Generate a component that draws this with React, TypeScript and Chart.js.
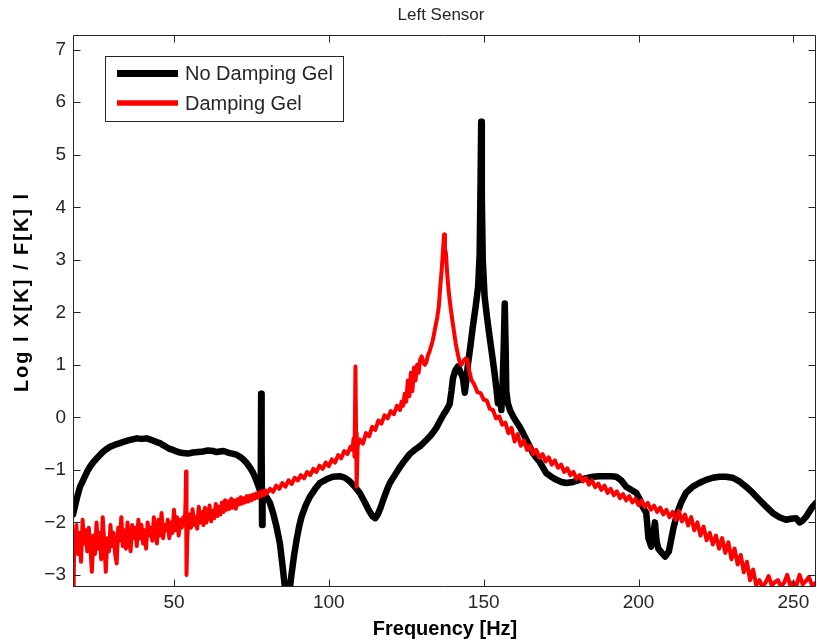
import React, { useEffect, useRef } from 'react';
import { Chart, registerables } from 'chart.js';

Chart.register(...registerables);

const chartTitle = 'Left Sensor';
const xTitle = 'Frequency [Hz]';
const yTitle = 'Log l X[K] / F[K] l';
const seriesNames = ['No Damping Gel', 'Damping Gel'];
const seriesColors = ['#000000', '#ff0000'];
const xTicks = [50, 100, 150, 200, 250];
const yTicks = [-3, -2, -1, 0, 1, 2, 3, 4, 5, 6, 7];
const xRange = [17.4, 257.3];
const yRange = [-3.23, 7.28];

// [frequency Hz, log magnitude]
const noDampingGel: number[][] = [
  [17.4, -1.85], [18.0, -1.7], [18.6, -1.55], [19.2, -1.42], [19.7, -1.32], [20.5, -1.22], [21.3, -1.12],
  [22.1, -1.02], [22.9, -0.94], [24.0, -0.85], [25.1, -0.78], [26.2, -0.71], [27.2, -0.65], [28.3, -0.6],
  [29.4, -0.56], [31.0, -0.52], [32.6, -0.49], [34.0, -0.46], [35.2, -0.44], [36.6, -0.42], [38.0, -0.4],
  [39.5, -0.41], [41.2, -0.4], [42.2, -0.42], [43.2, -0.44], [44.4, -0.47], [45.5, -0.49], [46.5, -0.53],
  [47.4, -0.56], [48.6, -0.6], [49.7, -0.62], [51.3, -0.66], [52.9, -0.68], [54.5, -0.69], [56.1, -0.67],
  [57.8, -0.66], [59.4, -0.65], [61.0, -0.63], [62.6, -0.64], [63.7, -0.66], [64.8, -0.65], [66.0, -0.64],
  [67.4, -0.67], [68.8, -0.69], [70.2, -0.71], [71.0, -0.74], [71.8, -0.77], [72.7, -0.82], [73.5, -0.87],
  [74.2, -0.93], [74.8, -0.98], [75.5, -1.05], [76.1, -1.13], [76.6, -1.2], [77.1, -1.28], [77.7, -1.38],
  [78.0, -1.4], [78.15, 0.45], [78.3, -0.6], [78.45, -2.05], [78.6, -1.5], [78.8, -1.44], [79.9, -1.52],
  [81.0, -1.63], [82.0, -1.82], [83.1, -2.08], [84.2, -2.4], [85.2, -2.9], [86.1, -3.4], [87.1, -3.4],
  [88.0, -2.97], [88.8, -2.62], [89.6, -2.33], [90.4, -2.08], [91.2, -1.89], [92.5, -1.68], [93.9, -1.51],
  [95.5, -1.37], [97.1, -1.25], [99.2, -1.18], [101.3, -1.13], [103.5, -1.12], [105.2, -1.15], [106.8, -1.22],
  [108.4, -1.32], [110.0, -1.44], [111.0, -1.55], [111.9, -1.65], [113.0, -1.78], [114.2, -1.89], [115.0, -1.92],
  [115.8, -1.85], [116.7, -1.72], [117.7, -1.55], [118.7, -1.39], [119.7, -1.25], [121.3, -1.1], [122.9, -0.95],
  [124.5, -0.82], [126.1, -0.7], [127.7, -0.62], [129.4, -0.55], [130.5, -0.49], [131.5, -0.43], [132.5, -0.37],
  [133.5, -0.3], [134.7, -0.2], [135.8, -0.08], [137.0, 0.05], [138.0, 0.14], [139.0, 0.25], [139.6, 0.5],
  [140.1, 0.75], [140.9, 0.9], [141.7, 0.97], [142.6, 0.85], [143.3, 0.75], [143.9, 0.47], [144.4, 0.7],
  [144.9, 1.0], [145.7, 1.35], [146.5, 1.73], [147.4, 2.1], [148.2, 2.49], [148.7, 3.1], [149.0, 4.5],
  [149.2, 5.63], [149.4, 4.2], [149.7, 3.0], [150.3, 2.3], [151.1, 1.9], [151.9, 1.54], [152.7, 1.2],
  [153.5, 0.85], [154.1, 0.55], [154.6, 0.27], [155.2, 0.45], [155.7, 0.14], [156.1, 0.6], [156.5, 1.4],
  [156.8, 2.17], [157.1, 1.3], [157.3, 0.5], [157.8, 0.27], [158.6, 0.12], [159.5, 0.02], [160.5, -0.08],
  [161.6, -0.18], [162.7, -0.3], [163.8, -0.43], [164.9, -0.56], [165.9, -0.68], [167.0, -0.77], [168.1, -0.85],
  [169.2, -0.96], [170.2, -1.06], [171.8, -1.13], [173.5, -1.19], [175.1, -1.23], [176.7, -1.25], [178.9, -1.23],
  [181.0, -1.19], [183.1, -1.16], [185.3, -1.13], [187.4, -1.12], [189.6, -1.12], [191.2, -1.12], [192.8, -1.13],
  [194.4, -1.2], [196.0, -1.32], [197.6, -1.38], [199.3, -1.44], [200.3, -1.55], [201.3, -1.7], [202.5, -1.82],
  [203.2, -2.3], [204.1, -2.46], [204.8, -2.2], [205.3, -2.0], [205.8, -2.35], [206.4, -2.5], [207.5, -2.58],
  [208.6, -2.65], [209.8, -2.55], [210.3, -2.4], [211.3, -2.1], [212.5, -1.82], [213.9, -1.6], [215.3, -1.44],
  [217.5, -1.32], [219.6, -1.25], [221.8, -1.19], [224.0, -1.15], [226.1, -1.13], [228.2, -1.13], [230.4, -1.15],
  [232.6, -1.22], [234.7, -1.32], [236.9, -1.44], [239.0, -1.57], [241.2, -1.7], [243.3, -1.82], [245.5, -1.9],
  [247.6, -1.95], [249.2, -1.93], [250.9, -1.92], [252.0, -2.0], [252.9, -1.97], [254.0, -1.9], [255.2, -1.79],
  [256.2, -1.7], [257.3, -1.63],
];

const dampingGel: number[][] = [
  [17.6, -3.3], [17.8, -2.3], [18.0, -2.45], [18.5, -2.05], [19.0, -2.6], [19.5, -2.2], [20.0, -2.75],
  [20.5, -1.95], [21.0, -2.4], [21.5, -2.15], [22.0, -2.55], [22.5, -2.1], [23.0, -2.45], [23.5, -2.94],
  [24.0, -2.25], [24.5, -2.6], [25.0, -2.0], [25.5, -2.5], [26.0, -2.2], [26.5, -2.7], [27.0, -1.9],
  [27.5, -2.4], [28.0, -2.94], [28.5, -2.3], [29.0, -2.55], [29.5, -2.05], [30.0, -2.45], [30.5, -2.2],
  [31.0, -2.6], [31.5, -2.78], [32.0, -2.1], [32.5, -2.35], [33.0, -1.9], [33.5, -2.45], [34.0, -2.15],
  [34.5, -2.5], [35.0, -2.0], [35.5, -2.35], [36.0, -2.55], [36.5, -2.05], [37.0, -2.3], [37.5, -2.1],
  [38.0, -2.45], [38.5, -1.95], [39.0, -2.3], [39.5, -2.05], [40.0, -2.4], [40.5, -2.15], [41.0, -2.5],
  [41.5, -2.0], [42.0, -2.25], [42.5, -2.1], [43.0, -2.35], [43.5, -1.9], [44.0, -2.2], [44.5, -2.4],
  [45.0, -1.95], [45.5, -2.25], [46.0, -1.82], [46.5, -2.3], [47.0, -2.05], [47.5, -2.15], [48.0, -1.95],
  [48.5, -2.3], [49.0, -2.0], [49.5, -2.2], [50.0, -1.76], [50.5, -2.15], [51.0, -1.9], [51.5, -2.25],
  [52.0, -1.95], [52.5, -2.1], [53.0, -1.9], [53.5, -2.05], [53.75, -1.6], [53.9, -1.03], [54.0, -2.2],
  [54.1, -3.0], [54.3, -2.3], [54.6, -1.95], [55.0, -1.85], [55.5, -2.1], [56.0, -1.75], [56.5, -2.05],
  [57.0, -1.9], [57.5, -2.12], [58.0, -1.7], [58.5, -2.0], [59.0, -1.8], [59.5, -2.05], [60.0, -1.72],
  [60.5, -2.0], [61.0, -1.85], [61.5, -1.68], [62.0, -1.98], [62.5, -1.78], [63.0, -1.92], [63.5, -1.65],
  [64.0, -1.88], [64.5, -1.7], [65.0, -1.85], [65.5, -1.62], [66.0, -1.8], [66.5, -1.58], [67.0, -1.76],
  [67.5, -1.6], [68.0, -1.74], [68.5, -1.55], [69.0, -1.72], [69.5, -1.58], [70.0, -1.74], [70.5, -1.56],
  [71.0, -1.66], [71.5, -1.52], [72.0, -1.64], [72.5, -1.54], [73.0, -1.62], [73.5, -1.5], [74.0, -1.6],
  [74.5, -1.49], [75.0, -1.58], [75.5, -1.47], [76.0, -1.55], [76.5, -1.45], [77.0, -1.53], [77.5, -1.43],
  [78.0, -1.5], [78.5, -1.41], [79.0, -1.48], [79.5, -1.39], [80.0, -1.45], [81.0, -1.36], [82.0, -1.42],
  [83.0, -1.3], [84.0, -1.36], [85.0, -1.25], [86.0, -1.32], [87.0, -1.2], [88.0, -1.27], [89.0, -1.15],
  [90.0, -1.2], [91.0, -1.1], [92.0, -1.16], [93.0, -1.04], [94.0, -1.1], [95.0, -0.98], [96.0, -1.04],
  [97.0, -0.92], [98.0, -0.98], [99.0, -0.86], [100.0, -0.93], [101.0, -0.8], [102.0, -0.86], [103.0, -0.72],
  [104.0, -0.78], [105.0, -0.64], [106.0, -0.7], [107.0, -0.56], [107.6, -0.62], [108.0, -0.4], [108.3, -0.75],
  [108.6, 0.97], [108.8, -0.3], [109.0, -1.32], [109.3, -0.55], [110.0, -0.42], [111.0, -0.5], [112.0, -0.3],
  [113.0, -0.36], [114.0, -0.18], [115.0, -0.24], [116.0, -0.06], [117.0, -0.12], [118.0, 0.04], [119.0, -0.02],
  [120.0, 0.12], [121.0, 0.06], [122.0, 0.22], [123.0, 0.14], [123.5, 0.3], [124.0, 0.22], [124.5, 0.45],
  [125.0, 0.3], [125.5, 0.7], [126.0, 0.4], [126.5, 0.85], [127.0, 0.5], [127.5, 0.95], [128.0, 0.7],
  [128.5, 1.0], [129.0, 0.85], [129.5, 1.1], [130.0, 1.16], [130.5, 1.05], [131.0, 1.0], [131.5, 1.05],
  [132.0, 1.18], [132.5, 1.25], [133.0, 1.35], [133.5, 1.45], [134.0, 1.6], [134.5, 1.75], [135.0, 1.9],
  [135.5, 2.1], [136.0, 2.5], [136.5, 2.85], [137.0, 3.3], [137.2, 3.48], [137.5, 3.2], [137.8, 3.13],
  [138.2, 2.75], [138.7, 2.4], [139.3, 2.1], [140.0, 1.8], [140.5, 1.6], [141.0, 1.4], [141.6, 1.22],
  [142.2, 1.06], [142.8, 1.0], [143.5, 1.08], [144.2, 1.12], [144.7, 1.1], [145.3, 0.9], [146.0, 0.72],
  [147.0, 0.62], [148.0, 0.48], [149.0, 0.46], [150.0, 0.34], [151.0, 0.32], [152.0, 0.16], [153.0, 0.14],
  [154.0, -0.02], [155.0, 0.02], [156.0, -0.14], [157.0, -0.1], [158.0, -0.3], [159.0, -0.2], [160.0, -0.46],
  [161.0, -0.32], [162.0, -0.54], [163.0, -0.44], [164.0, -0.62], [165.0, -0.54], [166.0, -0.7], [167.0, -0.62],
  [168.0, -0.77], [169.0, -0.7], [170.0, -0.84], [171.0, -0.76], [172.0, -0.9], [173.0, -0.82], [174.0, -0.96],
  [175.0, -0.9], [176.0, -1.04], [177.0, -0.97], [178.0, -1.1], [179.0, -1.04], [180.0, -1.17], [181.0, -1.1],
  [182.0, -1.22], [183.0, -1.15], [184.0, -1.28], [185.0, -1.2], [186.0, -1.33], [187.0, -1.26], [188.0, -1.38],
  [189.0, -1.3], [190.0, -1.44], [191.0, -1.36], [192.0, -1.48], [193.0, -1.41], [194.0, -1.54], [195.0, -1.46],
  [196.0, -1.58], [197.0, -1.5], [198.0, -1.62], [199.0, -1.55], [200.0, -1.67], [201.0, -1.58], [202.0, -1.71],
  [203.0, -1.63], [204.0, -1.76], [205.0, -1.68], [206.0, -1.8], [207.0, -1.72], [208.0, -1.85], [209.0, -1.76],
  [210.0, -1.9], [211.0, -1.8], [212.0, -1.95], [213.0, -1.78], [214.0, -1.98], [215.0, -1.85], [216.0, -2.06],
  [217.0, -1.9], [218.0, -2.15], [219.0, -2.0], [220.0, -2.25], [221.0, -2.08], [222.0, -2.34], [223.0, -2.2],
  [224.0, -2.42], [225.0, -2.25], [226.0, -2.5], [227.0, -2.3], [228.0, -2.58], [229.0, -2.38], [230.0, -2.7],
  [231.0, -2.5], [232.0, -2.8], [233.0, -2.62], [234.0, -2.95], [235.0, -2.75], [236.0, -3.1], [237.0, -2.9],
  [238.0, -3.2], [239.0, -3.1], [240.0, -3.22], [241.0, -3.15], [242.0, -3.02], [243.0, -3.2], [244.0, -3.14],
  [245.0, -3.1], [246.0, -3.22], [247.0, -3.15], [248.0, -3.0], [249.0, -3.2], [250.0, -3.14], [251.0, -3.2],
  [252.0, -3.0], [253.0, -3.18], [254.0, -3.12], [255.0, -3.04], [256.0, -3.2], [257.3, -3.15],
];

const FONT = '"Liberation Sans", Arial, Helvetica, sans-serif';
const INK = '#262626';

const decorPlugin = {
  id: 'decor',
  afterDraw(chart: any) {
    const { ctx, chartArea: a, scales } = chart;
    const L = Math.round(a.left) + 0.5;
    const R = Math.round(a.right) - 0.5;
    const T = Math.round(a.top) + 0.5;
    const B = Math.round(a.bottom) - 0.5;
    ctx.save();
    ctx.strokeStyle = INK;
    ctx.lineWidth = 1;
    ctx.beginPath();
    ctx.rect(L, T, R - L, B - T);
    const tl = 7;
    for (const v of xTicks) {
      const px = Math.round(scales.x.getPixelForValue(v)) + 0.5;
      ctx.moveTo(px, B); ctx.lineTo(px, B - tl);
      ctx.moveTo(px, T); ctx.lineTo(px, T + tl);
    }
    for (const v of yTicks) {
      const py = Math.round(scales.y.getPixelForValue(v)) + 0.5;
      ctx.moveTo(L, py); ctx.lineTo(L + tl, py);
      ctx.moveTo(R, py); ctx.lineTo(R - tl, py);
    }
    ctx.stroke();

    // title
    ctx.fillStyle = INK;
    ctx.textAlign = 'center';
    ctx.textBaseline = 'middle';
    ctx.font = `17px ${FONT}`;
    ctx.fillText(chartTitle, 441, 15);

    // axis titles
    ctx.fillStyle = '#000';
    ctx.font = `bold 20px ${FONT}`;
    ctx.fillText(xTitle, 445, 629);
    ctx.save();
    ctx.translate(22, 292);
    ctx.rotate(-Math.PI / 2);
    try { (ctx as any).letterSpacing = '2px'; } catch (e) {}
    ctx.fillText(yTitle, 0, 0);
    try { (ctx as any).letterSpacing = '0px'; } catch (e) {}
    ctx.restore();

    // legend
    const lx = 105.5, ly = 56.5, lw = 238, lh = 65;
    ctx.fillStyle = '#fff';
    ctx.fillRect(lx, ly, lw, lh);
    ctx.strokeStyle = INK;
    ctx.lineWidth = 1;
    ctx.strokeRect(lx, ly, lw, lh);
    const rows = [73.5, 103];
    const widths = [7, 5.5];
    seriesNames.forEach((name, i) => {
      ctx.strokeStyle = seriesColors[i];
      ctx.lineWidth = widths[i];
      ctx.lineCap = 'butt';
      ctx.beginPath();
      ctx.moveTo(117, rows[i]);
      ctx.lineTo(178, rows[i]);
      ctx.stroke();
      ctx.fillStyle = INK;
      ctx.textAlign = 'left';
      ctx.textBaseline = 'middle';
      ctx.font = `20px ${FONT}`;
      ctx.fillText(name, 185, rows[i] + 1);
    });
    ctx.restore();
  },
};

export default function App() {
  const ref = useRef<HTMLCanvasElement | null>(null);
  useEffect(() => {
    if (!ref.current) return;
    const chart = new Chart(ref.current, {
      type: 'line',
      data: {
        datasets: [
          {
            label: seriesNames[0],
            data: noDampingGel.map(([x, y]) => ({ x, y })),
            borderColor: seriesColors[0],
            borderWidth: 6.5,
            pointRadius: 0,
            tension: 0,
            order: 1,
            clip: 0,
            borderJoinStyle: 'round',
            borderCapStyle: 'round',
          },
          {
            label: seriesNames[1],
            data: dampingGel.map(([x, y]) => ({ x, y })),
            borderColor: seriesColors[1],
            borderWidth: 4,
            pointRadius: 0,
            tension: 0,
            order: 0,
            clip: 0,
            borderJoinStyle: 'round',
            borderCapStyle: 'round',
          },
        ],
      },
      options: {
        animation: false,
        responsive: false,
        maintainAspectRatio: false,
        events: [],
        layout: { padding: { top: 35, right: 1, left: 0, bottom: 0 } },
        plugins: {
          legend: { display: false },
          title: { display: false },
          tooltip: { enabled: false },
        },
        scales: {
          x: {
            type: 'linear',
            min: xRange[0],
            max: xRange[1],
            grid: { display: false, drawTicks: false },
            border: { display: false },
            ticks: {
              color: INK,
              font: { size: 19, family: FONT },
              padding: 4,
              maxRotation: 0,
              autoSkip: false,
            },
            afterBuildTicks: (s: any) => {
              s.ticks = xTicks.map((v) => ({ value: v }));
            },
            afterFit: (s: any) => {
              s.height = 53;
            },
          },
          y: {
            type: 'linear',
            min: yRange[0],
            max: yRange[1],
            grid: { display: false, drawTicks: false },
            border: { display: false },
            ticks: {
              color: INK,
              font: { size: 19, family: FONT },
              padding: 7,
              autoSkip: false,
              callback: (v: any) => String(v).replace('-', '\u2212'),
            },
            afterBuildTicks: (s: any) => {
              s.ticks = yTicks.map((v) => ({ value: v }));
            },
            afterFit: (s: any) => {
              s.width = 73;
            },
          },
        },
      } as any,
      plugins: [decorPlugin],
    });
    return () => chart.destroy();
  }, []);

  return (
    <div style={{ position: 'fixed', left: 0, top: 0, width: 817, height: 640, background: '#fff' }}>
      <canvas ref={ref} width={817} height={640} style={{ width: 817, height: 640, display: 'block' }} />
    </div>
  );
}
